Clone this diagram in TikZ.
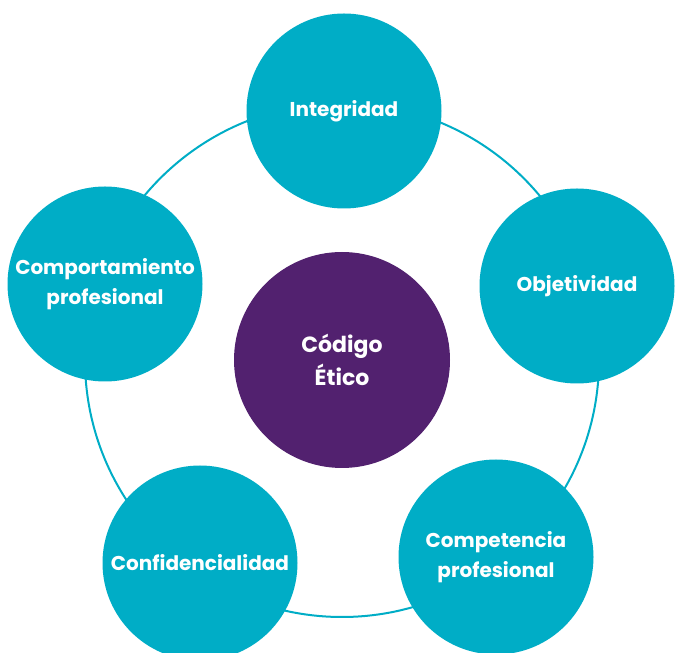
\documentclass[tikz,border=0pt]{standalone}
\usepackage{fontspec}
\setmainfont{Poppins}
\definecolor{teal}{HTML}{00ADC6}
\definecolor{violeta}{HTML}{52216F}
\tikzset{
        valor/.style={circle, fill=teal, minimum size=195pt, inner sep=0pt, text=white, align=center, font=\fontsize{20}{30}\selectfont\bfseries},
        centro/.style={circle, fill=violeta, minimum size=216pt, inner sep=0pt, text=white, align=center, font=\fontsize{22}{33}\selectfont\bfseries},
        anillo/.style={draw=teal, line width=2pt}
    }
\begin{document}
\begin{tikzpicture}[x=1pt, y=1pt]
            \useasboundingbox (0,0) rectangle (680,653);
            \coordinate (o) at (342,293);
            \draw [anillo] (o) circle (257);

            \node [centro] (codigo) at (342, 293) {Código\\Ético};
            \node [valor] (integridad) at (344, 542) {Integridad};
            \node [valor] (objetividad) at (577, 367) {Objetividad};
            \node [valor] (competencia) at (496, 96) {Competencia\\profesional};
            \node [valor] (confidencialidad) at (200, 90) {Confidencialidad};
            \node [valor] (comportamiento) at (105, 369) {Comportamiento\\profesional};
        \end{tikzpicture}
\end{document}
